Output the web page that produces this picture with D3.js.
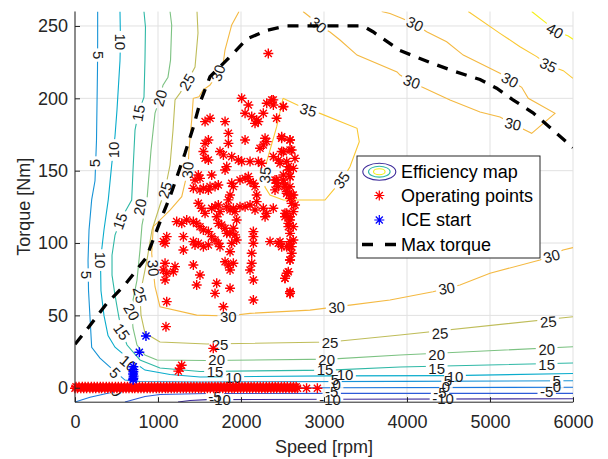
<!DOCTYPE html>
<html><head><meta charset="utf-8">
<script src="https://cdn.jsdelivr.net/npm/d3@7"></script>
<style>body{margin:0;background:#fff}svg{display:block}text{font-family:"Liberation Sans",Arial,Helvetica,sans-serif}</style>
</head><body><svg id="c" width="608" height="459"></svg>
<script>
// ---------- data ----------
const xTicks = [0, 1000, 2000, 3000, 4000, 5000, 6000];
const yTicks = [0, 50, 100, 150, 200, 250];
const levels = [-10, -5, 0, 5, 10, 15, 20, 25, 30, 35, 40];
const levelColors = ['#3e2c9a', '#2d5bd9', '#1a78e0', '#1793d6', '#0aaccc', '#2fb8a6', '#7cc282', '#bfbd5a', '#f4b942', '#fac833', '#f5f017'];

// contour lines [speed rpm, torque Nm]
const cM10 = [[1241,-9.9],[1386,-8.8],[1590,-8.2],[3072,-8],[6000,-7.6]];
const cM5 = [[602,-9.9],[843,-6.1],[1024,-4.7],[1590,-4],[3072,-3.9],[6000,-3.9]];
const c0 = [[0,-9.9],[181,-6.6],[422,-3.5],[602,-1.6],[1024,-0.6],[3072,0],[6000,0.3]];
const c5 = [[273,260],[273,240],[271,220],[259,171],[241,143],[201,130],[169,109],[157,88],[163,67],[201,28],[301,20.5],[422,14.3],[602,5.3],[783,4.3],[1506,4],[3916,4.4],[6000,4.8]];
const c10 = [[542,260],[548,240],[542,226],[506,192],[482,174],[442,154],[401,130],[349,109],[307,88],[313,67],[349,50],[398,36],[482,28],[639,20.5],[843,12.2],[1145,9.1],[1506,7.4],[3072,8.2],[4518,8.4],[6000,9.8]];
const c15 = [[831,260],[849,249.3],[843,226.4],[831,200.8],[763,189.8],[723,178],[699,150.4],[683,129.7],[602,121.4],[542,114.5],[482,105.5],[446,91.6],[446,77.8],[482,64],[530,48.2],[566,38.5],[627,29.5],[783,19.2],[1024,13.6],[1506,11.2],[3072,12.2],[3916,14.3],[6000,17.1]];
const c20 = [[1145,260],[1165,250.7],[1151,226.4],[1120,214.6],[1060,209.1],[1024,200.1],[964,189.8],[916,164.3],[867,129.7],[807,112.4],[783,95.2],[747,74.4],[699,60.6],[683,52.3],[699,41.3],[747,29.5],[843,22.6],[988,19.2],[1590,18.8],[3072,19.8],[3916,22.6],[6000,28.3]];
const c25 = [[1470,260],[1482,245.1],[1446,221.6],[1349,211.2],[1265,203.6],[1205,198.9],[1181,178.1],[1145,153.9],[1084,136.6],[1024,126.3],[928,109],[867,88.2],[819,74.4],[783,64],[795,50.2],[843,37.8],[1024,31.6],[1590,30.2],[3072,31.6],[3916,36.4],[6000,49.1]];
const c30a = [[1976,260],[1888,250.7],[1807,233.4],[1780,221.8],[1723,217.5],[1627,209.2],[1542,205.7],[1494,201.1],[1425,200],[1406,185],[1373,164.3],[1361,150.4],[1325,141.5],[1286,132],[1145,122.7],[943,111.3],[924,92.9],[940,82.7],[964,69.8],[1024,56],[1466,50.2],[1843,49.6],[2108,51.4],[2831,53.6],[3313,57.1],[3795,60.6],[4313,66.3],[4638,71],[5000,79.1],[5602,88.3],[5880,95.2],[6000,96.8]];
const c30b = [[2747,260],[2831,256.2],[2928,250.7],[3072,245.8],[3193,240.3],[3398,229.9],[3880,218.2],[3916,216.1],[4060,211.3],[4181,207.8],[4518,198.9],[4880,190.6],[5120,187.1],[5277,182.3],[5422,178.1],[5502,175.8],[5783,189.6],[5461,200],[5382,207.6],[5241,212.7],[5120,217.3],[4678,229.9],[4478,239.1],[4237,246],[4096,251.4],[3936,255.3],[3795,258.6],[3695,260]];
const c35a = [[2506,200],[2807,191.9],[2952,189.6],[3398,179.3],[3425,170],[3313,152.7],[3217,143.5],[3112,136.6],[3012,129.7],[2510,129.7],[2349,133.2],[2289,138.7],[2289,147],[2310,156.2],[2430,180.4],[2506,200]];
const c35b = [[4738,260],[5120,244.9],[5361,235.7],[5563,228.8],[5699,223],[5883,219.1],[6000,213.8]];
const c40 = [[5502,260],[5683,251.8],[5783,246.7],[5943,243],[6000,240.8]];

// contour labels [level, speed, torque, angle deg]
const contourLabels = [
  [5,281,229.9,90],[5,241,155.3,-90],[5,133,77.9,90],[5,482,10.2,45],[5,3133,5.3,0],[5,4494,4.6,0],[5,5804,4.6,0],
  [10,551,239.1,90],[10,461,164.3,-90],[10,301,88.2,90],[10,642,16.9,40],[10,1907,7.2,0],[10,3253,8.8,0],[10,4578,7.6,0],
  [15,763,189.8,-80],[15,542,115.2,-70],[15,563,38.7,55],[15,1687,11.1,0],[15,3012,12.2,0],[15,4358,13.4,0],[15,5683,16.2,0],
  [20,1024,200.2,-75],[20,783,124.9,-80],[20,683,52.3,60],[20,1707,19.1,0],[20,3032,19.1,0],[20,4358,22.6,0],[20,5683,26.5,-3],
  [25,1349,211.3,-60],[25,1084,136.6,-75],[25,783,64.1,75],[25,1747,29.5,0],[25,3072,31.1,0],[25,4398,37.6,-3],[25,5702,45.6,-5],
  [30,1723,217.5,-72],[30,1358,150.4,-85],[30,943,82.7,85],[30,1847,49.1,0],[30,3153,55.6,-4],[30,4478,68.7,-10],[30,5743,91,-15],
  [30,2931,250.7,40],[30,4096,251.4,25],[30,4057,211.5,20],[30,5241,212.7,28],[30,5277,182.3,12],
  [35,2811,191.9,15],[35,3213,143.5,-55],[35,2289,147,-85],[35,5702,223,25],
  [40,5783,246.7,30],
  [0,502,-2.8,60],[0,3153,1.9,0],[0,4470,0.8,0],[0,5807,0.5,0],
  [-5,1687,-6.2,0],[-5,3093,-2.8,0],[-5,4398,-3.7,0],[-5,5683,-3,0],
  [-10,1747,-8.5,0],[-10,3072,-8.5,0],[-10,4434,-7.8,0]
];

// operating points [speed, torque]
const opSpeed = [2008,2089,2049,2129,2189,2269,2310,2370,2390,2510,2169,2209,1567,1627,1808,1848,1848,2049,1567,1607,2290,2269,2229,2310,2490,2591,2490,2591,1547,1567,1607,1747,1788,1888,1968,2008,2109,2209,2249,2390,2450,2551,2571,2631,2591,2510,2530,2551,2611,2591,2651,2631,2551,2530,2591,2571,2591,2631,2591,2611,2591,2551,2530,2591,1486,1506,1446,1426,1647,1808,1828,1988,2049,2089,2109,2169,2189,2149,2410,2430,2410,2450,1506,1547,1607,1627,1687,1727,1888,1908,1868,1848,1828,1868,1908,1928,1948,1486,1526,1567,1647,1687,1727,1747,1707,1727,1767,1808,1828,1868,1908,1928,1948,1888,1868,1225,1286,1346,1426,1466,1506,1547,1607,1647,1687,1727,1747,1065,1105,1085,1306,1306,1426,1446,1486,1547,1607,1988,2049,2109,2169,2189,2269,2310,2290,2149,2149,2149,2129,2129,2109,2149,2350,2450,2490,2551,1808,1848,1908,1868,1085,1065,1105,1085,1205,1185,1426,1506,1466,1707,1687,1868,1105,1788,2149,2591,
  2389,2510,2429,2490,2590,2510,2610,2650,2470,2570,2510,2590,2429,2530,2590,2550,2630,2610,2389,2530,2590,2570,2630,2470,2590,2610,2590,2570,2530,2590,
  2329,1096,1265,1245,1285,1666];
const opTorque = [200,195.4,189.7,187.4,185.1,189.7,196.6,198.9,195.4,194.3,182.7,183.9,183.9,186.2,183.9,175.8,168.9,171.2,168.9,171.2,172.4,167.8,165.5,170.1,173.5,171.2,163.2,164.3,163.2,158.6,157.4,163.2,160.9,159.7,157.4,156.3,156.3,156.3,155.1,159.7,157.4,156.3,150.5,151.6,145.9,143.6,139,135.5,133.2,130.9,126.3,121.7,120.5,118.2,115.9,111.3,106.7,102.1,97.5,92.9,88.3,79.1,75.6,65.2,147,144.7,143.6,137.8,147,150.5,152.8,143.6,144.7,145.9,142.4,139,133.2,141.3,143.6,141.3,136.7,139,136.7,137.8,136.7,139,139,140.1,141.3,139,133.2,129.8,125.1,122.8,124,121.7,115.9,127.5,124,120.5,124,125.1,126.3,121.7,118.2,113.6,112.5,110.2,106.7,106.7,110.2,105.6,102.1,99.8,94,114.8,113.6,115.9,114.8,113.6,111.3,109,107.9,104.4,102.1,99.8,97.5,101,104.4,99.8,104.4,95.2,101,98.7,99.8,97.5,98.7,125.1,125.1,126.3,122.8,128.6,124,120.5,118.2,107.9,104.4,99.8,92.9,86,81.4,74.5,101,99.8,97.5,97.5,87.1,84.8,86,81.4,86,81.4,79.1,74.5,83.7,80.2,84.8,77.9,71,72.2,65.2,68.7,59.5,56,60.6,66.4,
  198.9,194.2,186.2,172.4,171.2,163.1,164.3,158.5,155.1,152.8,147,145.9,143.6,140.1,138.9,134.3,133.2,127.4,124,120.5,118.2,113.6,111.3,100.9,100.9,97.5,88.3,80.2,75.6,65.2,
  231,42.2,13.4,11.5,15.5,27.2];
// near-zero-torque operating points (two passes)
const zeroSpeedA = [0,30,70,105,140,180,215,250,290,320,360,395,430,470,505,540,580,615,650,690,720,760,795,830,870,905,940,980,1015,1050,1090,1120,1160,1195,1230,1270,1305,1340,1380,1415,1450,1490,1520,1560,1595,1630,1670,1705,1740,1780,1815,1850,1890,1920,1960,1995,2030,2070,2105,2140,2180,2215,2250,2290,2320,2360,2395,2430,2470,2505,2540,2580,2615,2650,2680,2790,2920];
const zeroTorqueA = -0.4;
const zeroSpeedB = [12,48,88,122,158,197,232,268,305,338,377,412,448,487,522,558,597,632,668,705,740,777,812,848,887,922,958,997,1032,1068,1105,1140,1177,1212,1248,1287,1322,1358,1397,1432,1468,1505,1540,1577,1612,1648,1687,1722,1758,1797,1832,1868,1905,1940,1977,2012,2048,2087,2122,2158,2197,2232,2268,2305,2340,2377,2412,2448,2487,2522,2558,2597,2632,2665];
const zeroTorqueB = 0.7;

// ICE start points
const iceSpeed = [855,775,703,703,703,700,705,703,700];
const iceTorque = [35.7,24.5,14.5,12.5,11,9.5,8,6.5,5.5];

// max torque curve
const maxSpeed = [0,180,380,600,860,1060,1145,1325,1425,1506,1627,1907,2069,2310,2550,3470,3590,3916,4313,4554,4880,5080,5277,5518,5759,6000];
const maxTorque = [30,43,58,71,90,120,132,162,180,197,215,231,241,247,250,250,246,233,224,219,213,207,199,190,178,166];

const legendLabels = ['Efficiency map', 'Operating points', 'ICE start', 'Max torque'];

// ---------- drawing ----------
const W = 608, H = 459;
const L = 75, R = 573, T = 11.5, B = 402.2;
const x = d3.scaleLinear().domain([0, 6000]).range([L, R]);
const y = d3.scaleLinear().domain([-10, 260]).range([B, T]);
const ink = '#262626';
const svg = d3.select('#c');
const defs = svg.append('defs');
defs.append('clipPath').attr('id', 'clip').append('rect')
  .attr('x', L).attr('y', T).attr('width', R - L).attr('height', B - T);

const gGrid = svg.append('g');
const gCont = svg.append('g').attr('clip-path', 'url(#clip)');
const gLab = svg.append('g');
const gPts = svg.append('g');
const gMax = svg.append('g').attr('clip-path', 'url(#clip)');
const gAxes = svg.append('g');
const gLeg = svg.append('g');

// grid
gGrid.selectAll('.vx').data(xTicks).join('line')
  .attr('x1', d => x(d)).attr('x2', d => x(d)).attr('y1', T).attr('y2', B)
  .attr('stroke', '#e1e1e1').attr('stroke-width', 1);
gGrid.selectAll('.hy').data(yTicks).join('line')
  .attr('x1', L).attr('x2', R).attr('y1', d => y(d)).attr('y2', d => y(d))
  .attr('stroke', '#e1e1e1').attr('stroke-width', 1);

// contour labels (measure first for masks)
const labSel = gLab.selectAll('text').data(contourLabels).join('text')
  .attr('transform', d => `translate(${x(d[1])},${y(d[2])}) rotate(${d[3]})`)
  .attr('text-anchor', 'middle').attr('dy', '0.36em')
  .style('font-size', '15px').attr('fill', '#1a1a1a')
  .text(d => d[0]);
const widths = [];
labSel.each(function (d, i) { widths[i] = this.getComputedTextLength(); });

const contourSets = [
  [-10, cM10], [-5, cM5], [0, c0], [5, c5], [10, c10], [15, c15], [20, c20],
  [25, c25], [30, c30a], [30, c30b], [35, c35a], [35, c35b], [40, c40]
];
levels.forEach((lv, li) => {
  const m = defs.append('mask').attr('id', 'mk' + li).attr('maskUnits', 'userSpaceOnUse')
    .attr('x', 0).attr('y', 0).attr('width', W).attr('height', H);
  m.append('rect').attr('width', W).attr('height', H).attr('fill', 'white');
  contourLabels.forEach((d, i) => {
    if (d[0] !== lv) return;
    const w = widths[i] + 5;
    m.append('rect')
      .attr('transform', `translate(${x(d[1])},${y(d[2])}) rotate(${d[3]})`)
      .attr('x', -w / 2).attr('y', -6.5).attr('width', w).attr('height', 13).attr('fill', 'black');
  });
});
const line = d3.line().x(d => x(d[0])).y(d => y(d[1]));
contourSets.forEach(([lv, pts]) => {
  const li = levels.indexOf(lv);
  gCont.append('path').attr('d', line(pts)).attr('fill', 'none')
    .attr('stroke', levelColors[li]).attr('stroke-width', 1.1)
    .attr('mask', `url(#mk${li})`);
});

// asterisk marker
function star(r) {
  const a = r * 0.7071;
  return `M${-r},0H${r}M0,${-r}V${r}M${-a},${-a}L${a},${a}M${-a},${a}L${a},${-a}`;
}
const zeroPts = zeroSpeedA.map(s => [s, zeroTorqueA]).concat(zeroSpeedB.map(s => [s, zeroTorqueB]));
const opPts = opSpeed.map((s, i) => [s, opTorque[i]]).concat(zeroPts);
gPts.selectAll('.op').data(opPts).join('path')
  .attr('transform', d => `translate(${x(d[0])},${y(d[1])})`)
  .attr('d', star(5)).attr('stroke', '#ff0000').attr('stroke-width', 1.4).attr('fill', 'none');
const icePts = iceSpeed.map((s, i) => [s, iceTorque[i]]);
gPts.selectAll('.ice').data(icePts).join('path')
  .attr('transform', d => `translate(${x(d[0])},${y(d[1])})`)
  .attr('d', star(5)).attr('stroke', '#0000ff').attr('stroke-width', 1.4).attr('fill', 'none');

// max torque
gMax.append('path').attr('d', line(maxSpeed.map((s, i) => [s, maxTorque[i]])))
  .attr('fill', 'none').attr('stroke', '#000').attr('stroke-width', 3.3)
  .attr('stroke-dasharray', '11,9');

// axes
const ax = gAxes.append('g').attr('transform', `translate(0,${B})`)
  .call(d3.axisBottom(x).tickValues(xTicks).tickSize(-5).tickPadding(13.5).tickFormat(d3.format('d')));
const ay = gAxes.append('g').attr('transform', `translate(${L},0)`)
  .call(d3.axisLeft(y).tickValues(yTicks).tickSize(-5).tickPadding(7));
[ax, ay].forEach(g => {
  g.select('.domain').attr('stroke', ink).attr('stroke-width', 1);
  g.selectAll('.tick line').attr('stroke', ink);
  g.selectAll('.tick text').attr('fill', ink).style('font-size', '18px').style('font-family', '"Liberation Sans",Arial,sans-serif');
});
ax.select('.domain').attr('d', `M${L},0H${R}`);
ay.select('.domain').attr('d', `M0,${B}V${T}`);

gAxes.append('text').attr('x', (L + R) / 2).attr('y', 453).attr('text-anchor', 'middle')
  .attr('fill', ink).style('font-size', '18px').text('Speed [rpm]');
gAxes.append('text').attr('transform', `translate(30,${(T + B) / 2}) rotate(-90)`).attr('text-anchor', 'middle')
  .attr('fill', ink).style('font-size', '18px').text('Torque [Nm]');

// legend
const lx = 357, ly = 156, lw = 183, lh = 102;
gLeg.append('rect').attr('x', lx).attr('y', ly).attr('width', lw).attr('height', lh)
  .attr('fill', '#fff').attr('stroke', ink).attr('stroke-width', 1);
const rowsY = [171.7, 195.5, 220, 244.5];
const icx = 379.3;
gLeg.append('ellipse').attr('cx', icx).attr('cy', rowsY[0]).attr('rx', 16.5).attr('ry', 8.5)
  .attr('fill', 'none').attr('stroke', levelColors[0]).attr('stroke-width', 1.1);
gLeg.append('ellipse').attr('cx', icx).attr('cy', rowsY[0]).attr('rx', 10.8).attr('ry', 5.4)
  .attr('fill', 'none').attr('stroke', levelColors[5]).attr('stroke-width', 1.1);
gLeg.append('ellipse').attr('cx', icx).attr('cy', rowsY[0]).attr('rx', 5.8).attr('ry', 3)
  .attr('fill', 'none').attr('stroke', levelColors[10]).attr('stroke-width', 1.1);
gLeg.append('path').attr('transform', `translate(${icx},${rowsY[1]})`).attr('d', star(5))
  .attr('stroke', '#ff0000').attr('stroke-width', 1.2).attr('fill', 'none');
gLeg.append('path').attr('transform', `translate(${icx},${rowsY[2]})`).attr('d', star(5))
  .attr('stroke', '#0000ff').attr('stroke-width', 1.2).attr('fill', 'none');
gLeg.append('line').attr('x1', 362).attr('x2', 396).attr('y1', rowsY[3]).attr('y2', rowsY[3])
  .attr('stroke', '#000').attr('stroke-width', 3.3).attr('stroke-dasharray', '11,12');
gLeg.selectAll('.lt').data(legendLabels).join('text')
  .attr('x', 401).attr('y', (d, i) => rowsY[i]).attr('dy', '0.36em')
  .attr('fill', '#000').style('font-size', '18px').text(d => d);
</script>
</body></html>
